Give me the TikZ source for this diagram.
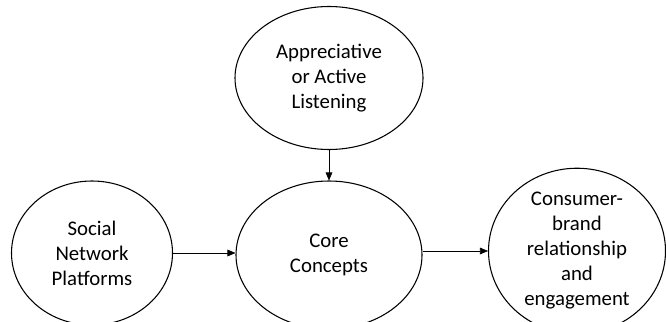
\documentclass[tikz,border=0pt]{standalone}
\usepackage{fontspec}
\setmainfont{Carlito}
\usetikzlibrary{shapes.geometric,arrows.meta}
\begin{document}
\begin{tikzpicture}[x=0.75pt,y=-0.75pt,
  oval/.style={ellipse,draw,line width=0.8pt,inner sep=0pt,align=center,
    font=\fontsize{15.6pt}{18.75pt}\selectfont},
  link/.style={draw,line width=0.5pt,-{Triangle[length=6pt,width=5pt]}}]
\useasboundingbox (0,0) rectangle (666,321);
\clip (0,0) rectangle (666,321);
\node[oval,minimum width=188*0.75pt,minimum height=143*0.75pt] (listen) at (329,78)
  {Appreciative\\or Active\\Listening};
\node[oval,minimum width=186*0.75pt,minimum height=148*0.75pt] (core) at (329,255)
  {Core\\Concepts};
\node[oval,minimum width=161*0.75pt,minimum height=144*0.75pt] (social) at (92,253)
  {Social\\Network\\Platforms};
\node[oval,minimum width=177*0.75pt,minimum height=140*0.75pt] (consumer) at (577,251)
  {Consumer-\\brand\\relationship\\and\\engagement};
\draw[link] (listen.south) -- (core.north);
\draw[link] (social.east) -- (core.west |- social.east);
\draw[link] (core.east |- consumer.west) -- (consumer.west);
\end{tikzpicture}
\end{document}
